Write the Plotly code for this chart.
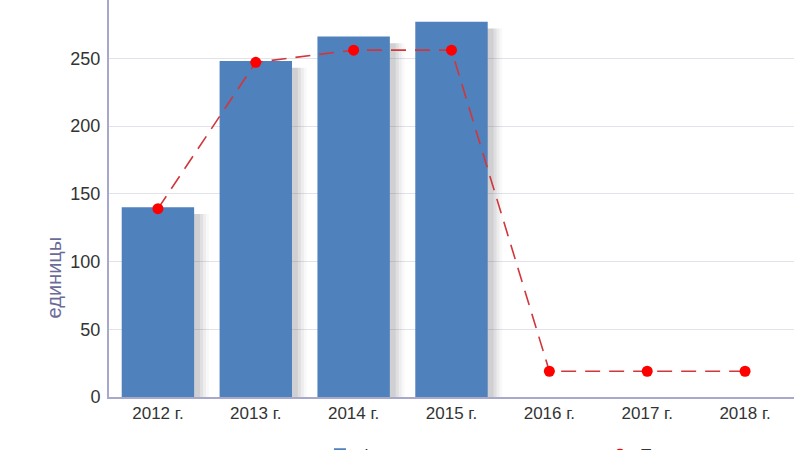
import plotly.graph_objects as go

years = ["2012 г.", "2013 г.", "2014 г.", "2015 г.", "2016 г.", "2017 г.", "2018 г."]
bar_years = ["2012 г.", "2013 г.", "2014 г.", "2015 г."]
bar_values = [140, 248, 266, 277]
line_values = [139, 247, 256, 256, 19, 19, 19]
y_ticks = [0, 50, 100, 150, 200, 250]
y_title = "единицы"

fig = go.Figure()

# soft shadow behind bars (layered for a blurred look)
for off, alpha in [(-0.22, 0.04), (-0.25, 0.06), (-0.28, 0.08), (-0.31, 0.09)]:
    fig.add_trace(go.Bar(
        x=bar_years, y=[v - 5 for v in bar_values], width=0.74, offset=off,
        marker=dict(color=f"rgba(70,70,80,{alpha})", line=dict(width=0)),
        showlegend=False, hoverinfo="skip",
    ))
fig.add_trace(go.Bar(
    x=bar_years, y=bar_values, width=0.74, offset=-0.37,
    marker=dict(color="#4f81bd", line=dict(width=0)),
    name="Фактическое значение",
))
fig.add_trace(go.Scatter(
    x=years, y=line_values, mode="lines+markers",
    line=dict(color="#d2363a", width=1.6, dash="15px,9px"),
    marker=dict(color="#ff0000", size=11),
    name="Плановое значение",
))

fig.add_annotation(
    text=y_title, textangle=-90, showarrow=False,
    xref="paper", yref="paper", x=-0.081, y=0.30,
    xanchor="center", yanchor="middle",
    font=dict(size=20, color="#6b6b9a"),
)

fig.update_layout(
    width=800, height=450,
    margin=dict(l=109, r=6, t=0, b=53, autoexpand=False),
    paper_bgcolor="white", plot_bgcolor="white",
    barmode="overlay",
    font=dict(family="Liberation Sans, Arial, sans-serif", color="#333333", size=17),
    showlegend=True,
    legend=dict(orientation="h", x=0.308, xanchor="left", y=-0.1, yanchor="top",
                font=dict(size=17, color="#333333"), traceorder="normal",
                entrywidth=235, entrywidthmode="pixels"),
    xaxis=dict(
        categoryorder="array", categoryarray=years, range=[-0.5, 6.5],
        showline=True, linecolor="#a8a8cc", linewidth=2,
        showgrid=False, ticks="", tickfont=dict(size=17, color="#333333"),
    ),
    yaxis=dict(
        range=[0, 293], tickvals=y_ticks,
        showline=True, linecolor="#a8a8cc", linewidth=2,
        showgrid=True, gridcolor="#e2e2ea", gridwidth=1,
        zeroline=False, ticks="", ticklabelstandoff=3,
        tickfont=dict(size=18, color="#333333"),
    ),
)

fig.write_html("out.html", config={"displayModeBar": False},
               post_script="document.body.style.margin='0';")
